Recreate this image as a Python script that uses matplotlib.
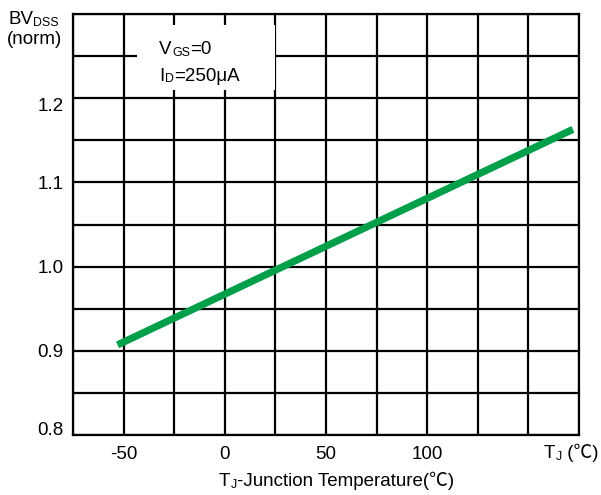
import matplotlib
matplotlib.use('Agg')
import numpy as np
import matplotlib.pyplot as plt
from matplotlib.patches import Rectangle
from matplotlib.transforms import IdentityTransform

plt.rcParams['font.family'] = ['Liberation Sans', 'Noto Sans CJK SC', 'DejaVu Sans']

# BVDSS (normalised) vs junction temperature
temp_c   = [-53, 172]
bv_norm  = [0.907, 1.163]

x_grid   = np.arange(-75, 176, 25)
y_grid   = np.arange(0.80, 1.301, 0.05)
x_labels = {-50: '-50', 0: '0', 50: '50', 100: '100'}
y_labels = {0.8: '0.8', 0.9: '0.9', 1.0: '1.0', 1.1: '1.1', 1.2: '1.2'}

GREEN = '#00A04A'
FS    = 13.5
SUB   = 0.66

fig = plt.figure(figsize=(6.01, 4.95), dpi=100)
ax = fig.add_axes([0.1215, 0.1212, 0.8419, 0.8505])

ax.plot(temp_c, bv_norm, color=GREEN, linewidth=5.2, solid_capstyle='butt', zorder=4)

ax.set_xlim(-75, 175)
ax.set_ylim(0.8, 1.3)
ax.set_xticks(x_grid)
ax.set_xticklabels([x_labels.get(int(v), '') for v in x_grid], fontsize=FS)
ax.set_yticks(y_grid)
ax.set_yticklabels([y_labels.get(round(v, 2), '') for v in y_grid], fontsize=FS)
ax.tick_params(length=0, pad=8)
ax.tick_params(axis='y', pad=7)
# bottom / top y labels sit inside the plot range like the datasheet
ylabs = ax.get_yticklabels()
ylabs[0].set_va('baseline')
ylabs[8].set_va('top')
ax.grid(color='black', linewidth=1.6, zorder=1)
ax.set_axisbelow(True)
for s in ax.spines.values():
    s.set_linewidth(1.6)
    s.set_color('black')

# condition box blanks out part of the grid
ax.add_patch(Rectangle((0.126, 0.819), 0.273, 0.154, transform=ax.transAxes,
                       facecolor='white', edgecolor='none', zorder=2))

H = 495
rend = fig.canvas.get_renderer()

def text_run(x, y, parts, ha='left'):
    # parts: (text, size factor, baseline shift px); x, y in pixels from top-left
    arts = []
    for s, k, dy in parts:
        t = fig.text(0, 0, s, fontsize=FS * k, transform=IdentityTransform(),
                     ha='left', va='baseline')
        arts.append((t, dy))
    widths = [t.get_window_extent(rend).width for t, _ in arts]
    x0 = x - sum(widths) / 2 if ha == 'center' else x
    for (t, dy), w in zip(arts, widths):
        t.set_position((x0, H - y + dy))
        x0 += w + 0.5

text_run(8, 24, [('BV', 1, 0), ('DSS', SUB, -1.5)])
text_run(7, 44, [('(norm)', 1, 0)])
text_run(159, 54, [('V', 1, 0), ('GS', SUB, -1.5), ('=0', 1, 0)])
text_run(159, 81, [('I', 1, 0), ('D', SUB, -1.5), ('=250μA', 1, 0)])
text_run(544, 458, [('T', 1, 0), ('J', SUB, -1.5), (' (℃)', 1, 0)])
text_run(336, 486, [('T', 1, 0), ('J', SUB, -1.5), ('-Junction Temperature(℃)', 1, 0)],
         ha='center')

fig.savefig('out.png', dpi=100)
